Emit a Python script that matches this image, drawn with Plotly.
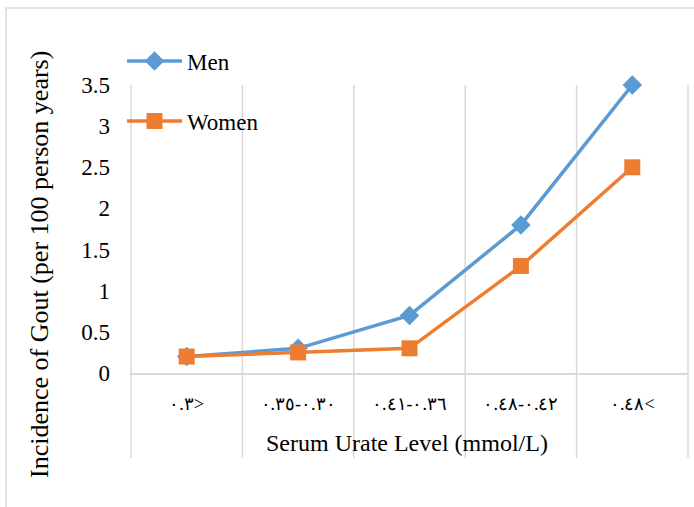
import plotly.graph_objects as go

categories = ["٠.٣>", "٠.٣٥-٠.٣٠", "٠.٤١-٠.٣٦", "٠.٤٨-٠.٤٢", "٠.٤٨<"]
men = [0.2, 0.3, 0.7, 1.8, 3.5]
women = [0.2, 0.25, 0.3, 1.3, 2.5]
y_ticks = [0, 0.5, 1, 1.5, 2, 2.5, 3, 3.5]
y_tick_text = ["0", "0.5", "1", "1.5", "2", "2.5", "3", "3.5"]

LRO, PDF = "\u202d", "\u202c"
tick_text = [LRO + c + PDF for c in categories]
xs = list(range(len(categories)))
n = len(categories)

W, H = 694, 507
L, R, T, B = 131, 6, 85, 134
pw, ph = W - L - R, H - T - B

def px_x(p):
    return (p - L) / pw

def px_y(p):
    return (H - B - p) / ph

FONT = "Liberation Serif"
GRID = "#d9d9d9"

fig = go.Figure()
fig.add_trace(go.Scatter(
    x=xs, y=men, name="Men", mode="lines+markers",
    line=dict(color="#5B9BD5", width=3.5),
    marker=dict(symbol="diamond", size=15, color="#5B9BD5"),
    legend="legend", cliponaxis=False,
))
fig.add_trace(go.Scatter(
    x=xs, y=women, name="Women", mode="lines+markers",
    line=dict(color="#ED7D31", width=3.5),
    marker=dict(symbol="square", size=16, color="#ED7D31"),
    legend="legend2", cliponaxis=False,
))

shapes = []
# category boundary lines (axis range is [-0.5, n-0.5], so boundary i sits at paper i/n)
for i in range(n + 1):
    shapes.append(dict(type="line", xref="paper", yref="paper",
                       x0=i / n, x1=i / n, y0=px_y(458), y1=1,
                       line=dict(color=GRID, width=1.5), layer="below"))
# outer chart frame (partially visible)
shapes.append(dict(type="rect", xref="paper", yref="paper",
                   x0=px_x(6), x1=px_x(720), y0=px_y(540), y1=px_y(8),
                   line=dict(color=GRID, width=1.5), layer="below"))

fig.update_layout(
    width=W, height=H,
    margin=dict(l=L, r=R, t=T, b=B),
    paper_bgcolor="white", plot_bgcolor="white",
    font=dict(family=FONT, size=23, color="black"),
    shapes=shapes,
    showlegend=True,
    legend=dict(x=px_x(122), y=px_y(61), xanchor="left", yanchor="middle",
                bgcolor="rgba(0,0,0,0)", itemwidth=55,
                font=dict(family=FONT, size=23, color="black")),
    legend2=dict(x=px_x(122), y=px_y(121), xanchor="left", yanchor="middle",
                 bgcolor="rgba(0,0,0,0)", itemwidth=55,
                 font=dict(family=FONT, size=23, color="black")),
    annotations=[
        dict(text="Incidence of Gout (per 100 person years)", textangle=-90,
             xref="paper", yref="paper", x=px_x(39), y=px_y(265),
             xanchor="center", yanchor="middle", showarrow=False,
             font=dict(family=FONT, size=26, color="black")),
        dict(text="Serum Urate Level (mmol/L)",
             xref="paper", yref="paper", x=px_x(407), y=px_y(443),
             xanchor="center", yanchor="middle", showarrow=False,
             font=dict(family=FONT, size=24, color="black")),
    ],
)
fig.update_xaxes(
    range=[-0.5, n - 0.5],
    tickmode="array", tickvals=xs, ticktext=tick_text,
    showgrid=False, zeroline=False, showline=True,
    linecolor=GRID, linewidth=1.5, ticks="",
    ticklabelstandoff=14,
    tickfont=dict(family=FONT, size=18, color="black"),
)
fig.update_yaxes(
    range=[0, 3.5], tickmode="array", tickvals=y_ticks, ticktext=y_tick_text,
    showgrid=False, zeroline=False, showline=False, ticks="",
    ticklabelstandoff=20,
    tickfont=dict(family=FONT, size=23, color="black"),
)

fig.write_html("out.html",
               config={"displayModeBar": False},
               post_script="document.body.style.margin='0';document.body.style.overflow='hidden';")
